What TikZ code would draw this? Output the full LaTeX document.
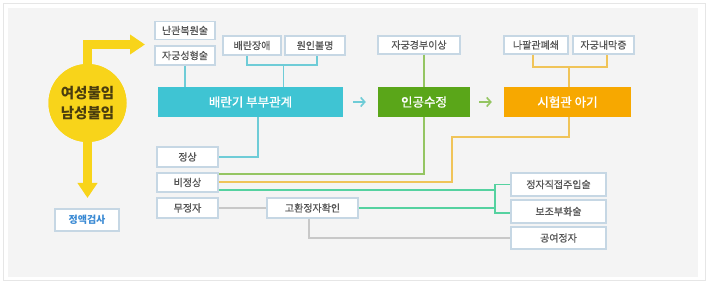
\documentclass[tikz,border=0pt]{standalone}
\usepackage{fontspec}
\setmainfont{Noto Sans CJK KR}
\newfontfamily\medfont[FakeBold=0.7]{Noto Sans CJK KR}
\newfontfamily\semifont[FakeBold=1.3]{Noto Sans CJK KR}
\usetikzlibrary{arrows.meta,calc}
\definecolor{panelbg}{HTML}{F4F4F4}
\definecolor{outerline}{HTML}{E6E6E6}
\definecolor{boxline}{HTML}{C6D7E4}
\definecolor{txtgray}{HTML}{555555}
\definecolor{cyanbar}{HTML}{3FC4D3}
\definecolor{greenbar}{HTML}{5AA619}
\definecolor{orangebar}{HTML}{F7A800}
\definecolor{ybar}{HTML}{F8D41A}
\definecolor{ytext}{HTML}{4A3D0E}
\definecolor{cyanline}{HTML}{6ECCD7}
\definecolor{greenline}{HTML}{94C562}
\definecolor{orangeline}{HTML}{F0C459}
\definecolor{mintline}{HTML}{55D2A0}
\definecolor{grayline}{HTML}{C8C8C8}
\definecolor{bluetext}{HTML}{3A8AD4}
\begin{document}
\begin{tikzpicture}[x=1pt,y=-1pt,
  sbox/.style={draw=boxline, fill=white, line width=1.3pt, inner sep=0pt,
    font=\medfont\fontsize{10}{12}\selectfont, text=txtgray},
  bar/.style={inner sep=0pt, minimum height=30pt, text=white,
    font=\semifont\fontsize{12.5}{14}\selectfont},
  cl/.style={draw=cyanline, line width=1.3pt},
  gl/.style={draw=greenline, line width=1.3pt},
  ol/.style={draw=orangeline, line width=1.3pt},
  ml/.style={draw=mintline, line width=1.3pt},
  grl/.style={draw=grayline, line width=1.3pt},
  yarrow/.style={draw=ybar, line width=9pt, line join=miter,
    -{Triangle[width=19pt,length=15pt]}},
  barrow/.style={line width=1.6pt, -{Straight Barb[length=4pt,width=9pt]}}
]
\useasboundingbox (0,0) rectangle (709,283);
\fill[white] (0,0) rectangle (709,283);
\draw[outerline, line width=0.8pt] (3,3) rectangle (705,280);
\fill[panelbg] (8,8) rectangle (698,277);

% coordinates
\coordinate (ytip) at (145,44.5);
\coordinate (ydown) at (87.5,198);
\coordinate (ocorner) at (452,137);
\coordinate (mx) at (495,0);

% yellow circle and arrows
\node[circle, fill=ybar, minimum size=78pt, inner sep=0pt] (circ) at (87.5,103) {};
\draw[yarrow] (circ.north) |- (ytip);
\draw[yarrow] (circ.south) -- (ydown);
\node[circle, fill=ybar, minimum size=78pt, inner sep=0pt, align=center,
  text=ytext, font=\fontsize{14.5}{20}\selectfont\bfseries] at (circ.center) {여성불임\\남성불임};

\node[sbox, minimum width=64pt, minimum height=22pt, text=bluetext, font=\fontsize{10}{12}\selectfont\bfseries] (sperm) at (87,220) {정액검사};

% top small boxes
\node[sbox, minimum width=60pt, minimum height=18pt] (n1) at (185,30.5) {난관복원술};
\node[sbox, minimum width=60pt, minimum height=19pt] (n2) at (185,55.5) {자궁성형술};
\node[sbox, minimum width=58pt, minimum height=19pt] (n3) at (252,45.5) {배란장애};
\node[sbox, minimum width=60pt, minimum height=19pt] (n4) at (315,45.5) {원인불명};
\node[sbox, minimum width=82pt, minimum height=18pt] (n5) at (419,45) {자궁경부이상};
\node[sbox, minimum width=64pt, minimum height=18pt] (n6) at (536,45) {나팔관폐쇄};
\node[sbox, minimum width=61pt, minimum height=18pt] (n7) at (603.5,45) {자궁내막증};

% main bars
\node[bar, fill=cyanbar, minimum width=185pt] (bar) at (250.5,102) {배란기 부부관계};
\node[bar, fill=greenbar, minimum width=92pt] (green) at (424,102) {인공수정};
\node[bar, fill=orangebar, minimum width=127pt] (orange) at (567.5,102) {시험관 아기};

\draw[barrow, cyanline] ([xshift=10pt]bar.east) -- ([xshift=-12pt]green.west);
\draw[barrow, greenline] ([xshift=9pt]green.east) -- ([xshift=-12pt]orange.west);

% bottom boxes
\node[sbox, minimum width=61pt, minimum height=20pt] (ns1) at (187.5,157) {정상};
\node[sbox, minimum width=61pt, minimum height=19pt] (ns2) at (187.5,182.5) {비정상};
\node[sbox, minimum width=61pt, minimum height=20pt] (ns3) at (187.5,208) {무정자};
\node[sbox, minimum width=91pt, minimum height=20pt] (kh) at (312.5,208) {고환정자확인};
\node[sbox, minimum width=95pt, minimum height=23pt] (b1) at (558.5,184.5) {정자직접주입술};
\node[sbox, minimum width=95pt, minimum height=23pt] (b2) at (558.5,211.5) {보조부화술};
\node[sbox, minimum width=95pt, minimum height=22pt] (b3) at (558.5,238) {공여정자};

% top connectors
\coordinate (j1) at (283.5,65);
\draw[cl] (n2.south) -- (n2.south |- bar.north);
\draw[cl] ([xshift=-5pt]n3.south) |- (j1) -| ([xshift=2pt]n4.south);
\draw[cl] (j1) -- (j1 |- bar.north);
\draw[gl] (green.north |- n5.south) -- (green.north);
\coordinate (j2) at (569,67);
\draw[ol] ([xshift=-3pt]n6.south) |- (j2) -| ([xshift=3.5pt]n7.south);
\draw[ol] (j2) -- (j2 |- orange.north);

% bottom connectors
\draw[cl] ([xshift=7.5pt]bar.south) |- (ns1.east);
\draw[gl] (green.south) |- ([yshift=8.5pt]ns2.east);
\draw[ol] (j2 |- orange.south) |- (ocorner) |- ([yshift=0.5pt]ns2.east);
\draw[ml] ([yshift=-7.5pt]ns2.east) -- ([yshift=-7.5pt]ns2.east -| mx);
\draw[ml] (b1.west) -- (b1.west -| mx) -- ([yshift=-1.5pt]b2.west -| mx) -- ([yshift=-1.5pt]b2.west);
\draw[ml] (kh.east) -- (kh.east -| mx);
\draw[grl] (ns3.east) -- (kh.west);
\draw[grl] ([xshift=-3.5pt]kh.south) |- (b3.west);
\end{tikzpicture}
\end{document}
